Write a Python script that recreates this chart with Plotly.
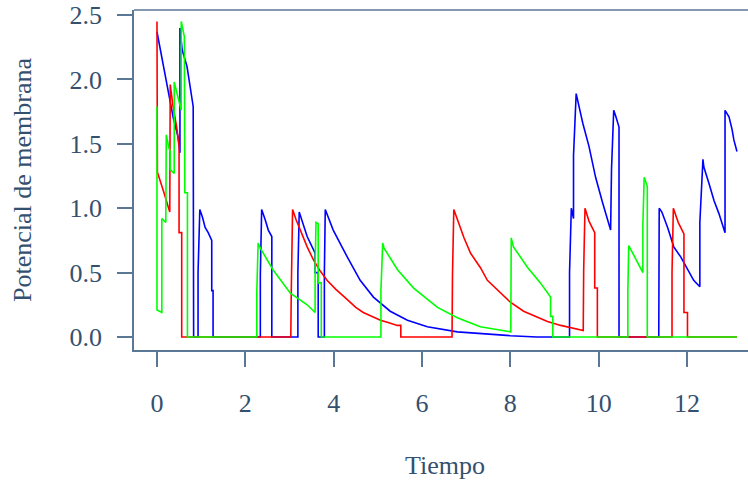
import plotly.graph_objects as go

# ---- data ----
red_t = [0.00, 0.01, 0.15, 0.29, 0.30, 0.36, 0.45, 0.50, 0.50, 0.56, 0.56,
         3.03, 3.04, 3.07, 3.15, 3.24, 3.40, 3.54, 3.70, 3.85, 4.05,
         4.31, 4.50, 4.67, 4.85, 5.06, 5.25, 5.44, 5.52, 5.52,
         6.68, 6.69, 6.72, 6.80, 6.95, 7.10, 7.32, 7.48, 7.75, 8.00,
         8.30, 8.62, 8.84, 9.14, 9.40, 9.65, 9.66, 9.69, 9.78, 9.91,
         9.91, 9.97, 9.97,
         11.66, 11.66, 11.69, 11.80, 11.93, 11.93, 12.01, 12.01, 13.13]
red_v = [2.45, 1.28, 1.13, 0.97, 1.96, 1.80, 1.62, 1.48, 0.81, 0.81, 0.00,
         0.00, 0.34, 0.99, 0.91, 0.83, 0.70, 0.60, 0.51, 0.44, 0.37,
         0.29, 0.23, 0.19, 0.16, 0.13, 0.11, 0.09, 0.09, 0.00,
         0.00, 0.48, 0.99, 0.91, 0.77, 0.65, 0.54, 0.44, 0.35, 0.27,
         0.20, 0.15, 0.12, 0.09, 0.07, 0.05, 0.52, 1.00, 0.90, 0.81,
         0.38, 0.38, 0.00,
         0.00, 0.50, 1.00, 0.89, 0.80, 0.19, 0.19, 0.00, 0.00]

green_t = [0.00, 0.00, 0.11, 0.11, 0.20, 0.21, 0.27, 0.30, 0.30, 0.39,
           0.39, 0.50, 0.55, 0.55, 0.62, 0.63, 0.69, 0.69,
           2.26, 2.26, 2.29, 2.34, 2.63, 3.02, 3.40, 3.58, 3.58, 3.60,
           3.65, 3.65, 3.72, 3.72,
           5.07, 5.07, 5.11, 5.14, 5.45, 5.81, 6.35, 6.80, 7.32, 8.01,
           8.02, 8.07, 8.39, 8.68, 8.91, 8.91, 8.96, 8.96,
           10.66, 10.66, 10.68, 11.00, 11.00, 11.03, 11.10, 11.10, 13.13]
green_v = [1.79, 0.21, 0.19, 0.92, 0.89, 1.57, 1.47, 1.44, 1.30, 1.27,
           1.98, 1.84, 1.76, 2.45, 2.33, 1.12, 1.12, 0.00,
           0.00, 0.35, 0.73, 0.69, 0.52, 0.34, 0.25, 0.19, 0.54, 0.89,
           0.88, 0.42, 0.42, 0.00,
           0.00, 0.36, 0.73, 0.69, 0.52, 0.38, 0.23, 0.15, 0.08, 0.04,
           0.77, 0.70, 0.54, 0.42, 0.31, 0.16, 0.16, 0.00,
           0.00, 0.36, 0.71, 0.50, 0.87, 1.24, 1.17, 0.00, 0.00]

blue_t = [0.00, 0.29, 0.37, 0.48, 0.52, 0.52, 0.57, 0.68, 0.72, 0.79,
          0.82, 0.83, 0.93, 0.93, 0.97, 1.03, 1.09, 1.16, 1.24, 1.24,
          1.27, 1.27, 2.34, 2.34, 2.37, 2.45, 2.52, 2.60, 2.60, 3.19,
          3.19, 3.22, 3.31, 3.40, 3.58, 3.58, 3.65, 3.65, 3.79, 3.79,
          3.81, 3.99, 4.31, 4.60, 4.90, 5.28, 5.67, 6.12, 6.80, 7.48,
          8.00, 8.60, 9.34, 9.34, 9.38, 9.43, 9.43, 9.49, 9.55, 9.64,
          9.78, 9.93, 10.09, 10.27, 10.29, 10.34, 10.39, 10.46, 10.46, 11.36,
          11.37, 11.43, 11.56, 11.70, 11.86, 12.02, 12.15, 12.29, 12.29, 12.36,
          12.38, 12.49, 12.61, 12.72, 12.86, 12.86, 12.95, 13.02, 13.06, 13.13]
blue_v = [2.37, 1.83, 1.70, 1.55, 1.43, 2.40, 2.23, 2.10, 2.00, 1.84,
          1.79, 0.00, 0.00, 0.50, 0.99, 0.93, 0.85, 0.81, 0.75, 0.36,
          0.36, 0.00, 0.00, 0.48, 0.99, 0.91, 0.83, 0.78, 0.00, 0.00,
          0.50, 0.97, 0.87, 0.78, 0.65, 0.50, 0.50, 0.00, 0.00, 0.50,
          0.99, 0.83, 0.62, 0.44, 0.31, 0.20, 0.13, 0.08, 0.04, 0.02,
          0.01, 0.00, 0.00, 0.50, 1.00, 0.92, 1.41, 1.89, 1.79, 1.66,
          1.48, 1.24, 1.04, 0.83, 1.30, 1.76, 1.71, 1.63, 0.00, 0.00,
          1.00, 0.97, 0.85, 0.70, 0.62, 0.52, 0.44, 0.39, 0.89, 1.38,
          1.32, 1.20, 1.06, 0.96, 0.81, 1.76, 1.71, 1.61, 1.53, 1.44]

x_ticks = [0, 2, 4, 6, 8, 10, 12]
y_ticks = [0.0, 0.5, 1.0, 1.5, 2.0, 2.5]
y_tick_labels = ["0.0", "0.5", "1.0", "1.5", "2.0", "2.5"]
x_title = "Tiempo"
y_title = "Potencial de membrana"

# ---- figure ----
TEXT = "#34506e"
LINE = "#5a7896"
FONT = "'Liberation Serif', 'Times New Roman', Times, serif"
FS = 26

fig = go.Figure()
for t, v, c in [(blue_t, blue_v, "#0000ff"),
                (red_t, red_v, "#ff0000"),
                (green_t, green_v, "#00ff00")]:
    fig.add_trace(go.Scatter(x=t, y=v, mode="lines",
                             line=dict(color=c, width=1.6),
                             showlegend=False, hoverinfo="skip"))

fig.update_layout(
    width=748, height=484,
    margin=dict(l=134, r=0, t=10, b=134, autoexpand=False),
    paper_bgcolor="white", plot_bgcolor="white",
    font=dict(family=FONT, size=FS, color=TEXT),
    xaxis=dict(range=[-0.52, 13.38], tickvals=x_ticks, automargin=False,
               ticks="outside", ticklen=15, tickwidth=1.5, tickcolor=LINE,
               showline=True, linecolor=LINE, linewidth=1.5,
               showgrid=False, zeroline=False,
               ticklabelstandoff=14, ticklabeloverflow="allow",
               tickfont=dict(family=FONT, size=FS, color=TEXT)),
    yaxis=dict(range=[-0.101, 2.539], tickvals=y_ticks, ticktext=y_tick_labels,
               automargin=False,
               ticks="outside", ticklen=15, tickwidth=1.5, tickcolor=LINE,
               showline=True, linecolor=LINE, linewidth=1.5,
               showgrid=False, zeroline=False,
               ticklabelstandoff=10, ticklabeloverflow="allow",
               tickfont=dict(family=FONT, size=FS, color=TEXT)),
    shapes=[dict(type="line", xref="paper", yref="paper",
                 x0=0, x1=1, y0=1, y1=1,
                 line=dict(color=LINE, width=1.5))],
    annotations=[
        dict(text=x_title, xref="paper", yref="paper",
             x=0.5065, y=-0.341, xanchor="center", yanchor="middle",
             showarrow=False, font=dict(family=FONT, size=FS, color=TEXT)),
        dict(text=y_title, xref="paper", yref="paper",
             x=-0.1824, y=0.5, xanchor="center", yanchor="middle",
             textangle=-90,
             showarrow=False, font=dict(family=FONT, size=FS, color=TEXT)),
    ],
)

# remove the default 8px page margin so the figure fills the window
fig.write_html("out.html",
               config={"displayModeBar": False},
               post_script="document.body.style.margin='0';document.body.style.overflow='hidden';")
